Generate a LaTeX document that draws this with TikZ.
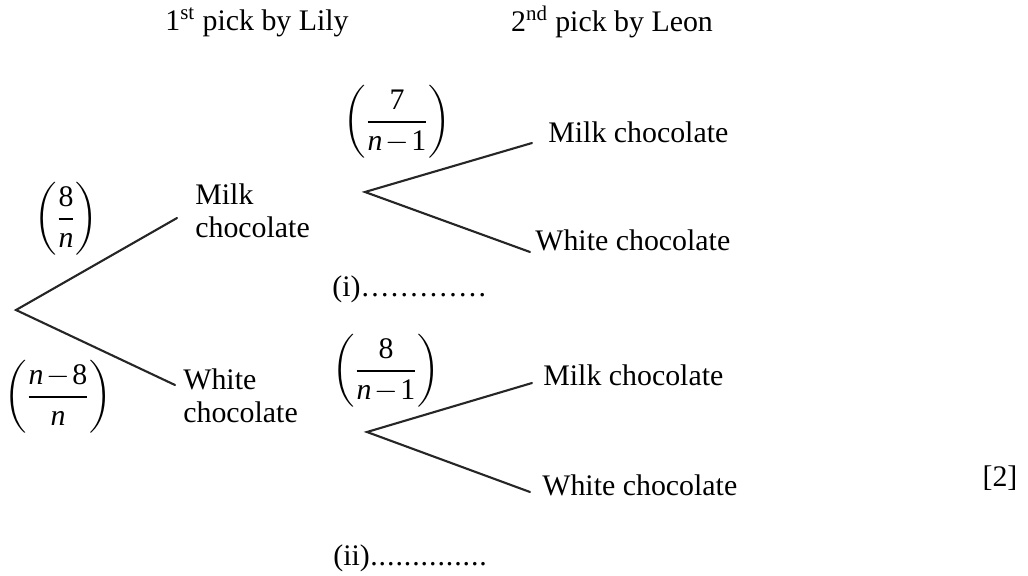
\documentclass[tikz,border=0pt]{standalone}
\usepackage{amsmath}
\usepackage{fontspec}
\setmainfont{Liberation Serif}
\usetikzlibrary{positioning}
\tikzset{
  txt/.style={font=\fontsize{17}{19}\selectfont, inner sep=0pt, align=left, anchor=west},
  prob/.style={font=\fontsize{17}{19}\selectfont, inner sep=0pt},
  branch/.style={line width=1.2pt, color=black!85, line cap=round}
}
\newcommand{\pfrac}[2]{$\left(\dfrac{\text{#1}}{#2}\right)$}
\newcommand{\tminus}{\mkern-2.5mu-\mkern-2.5mu}
\newcommand{\dotrow}[2]{\foreach \k in {1,...,#1}{\makebox[#2]{.}}}

\begin{document}
\begin{tikzpicture}[x=0.02cm, y=-0.02cm]
  \useasboundingbox (0,0) rectangle (1028,575);

  % Headings
  \node[prob] (head1) at (257,22) {1\textsuperscript{st} pick by Lily};
  \node[prob] (head2) at (612,22) {2\textsuperscript{nd} pick by Leon};

  % First pick
  \coordinate (root) at (16,310);
  \coordinate (m1end) at (177,218);
  \coordinate (w1end) at (175,385);
  \node[txt] (milk1) at (195,211) {Milk\\chocolate};
  \node[txt] (white1) at (183,396) {White\\chocolate};
  \node[prob] (p8n) at (66,219) {\pfrac{8}{\mathit{n}}};
  \node[prob] (pn8n) at (58,397) {$\left(\dfrac{\mathit{n}\tminus\text{8}}{\mathit{n}}\right)$};

  % Second pick after milk
  \coordinate (rootm) at (365,192);
  \coordinate (mmend) at (532,143);
  \coordinate (mwend) at (530,252);
  \node[txt] (milkmilk) at (548,132) {Milk chocolate};
  \node[txt] (milkwhite) at (535,240) {White chocolate};
  \node[prob] (p7) at (397,122) {\pfrac{7}{\mathit{n}\tminus\text{1}}};
  \node[txt, anchor=base west] (ans1) at (332,296) {(i)\dotrow{13}{0.195cm}};

  % Second pick after white
  \coordinate (rootw) at (367,432);
  \coordinate (wmend) at (532,383);
  \coordinate (wwend) at (530,492);
  \node[txt] (whitemilk) at (543,375) {Milk chocolate};
  \node[txt] (whitewhite) at (542,485) {White chocolate};
  \node[prob] (p8) at (386,371) {\pfrac{8}{\mathit{n}\tminus\text{1}}};
  \node[txt, anchor=base west] (ans2) at (333,565) {(ii)\dotrow{14}{0.168cm}};
  \node[prob] (marks) at (1000,478) {[2]};

  % Branches
  \draw[branch] (m1end) -- (root) -- (w1end);
  \draw[branch] (mmend) -- (rootm) -- (mwend);
  \draw[branch] (wmend) -- (rootw) -- (wwend);
\end{tikzpicture}
\end{document}
